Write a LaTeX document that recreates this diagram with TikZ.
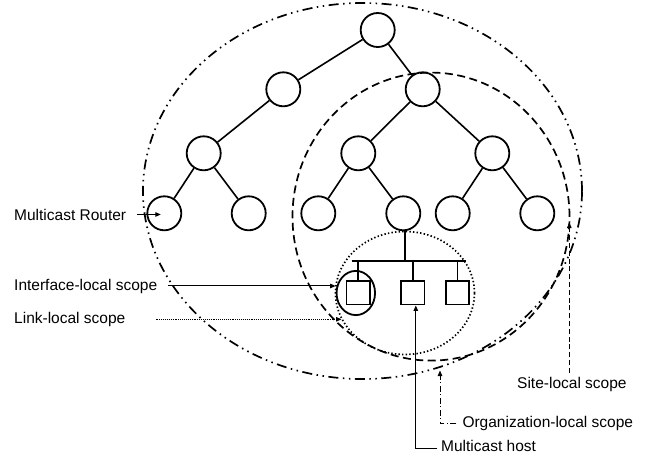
\documentclass[tikz,border=0pt]{standalone}
\usepackage{fontspec}
\setmainfont{Liberation Sans}
\usetikzlibrary{arrows.meta,shapes.geometric}
\begin{document}
\begin{tikzpicture}[x=1pt,y=-1pt,
  router/.style={circle,draw,line width=1.8pt,minimum size=34pt,inner sep=0pt},
  hostbox/.style={rectangle,draw,line width=1.8pt,minimum size=23.5pt,inner sep=0pt},
  edge/.style={line width=1.6pt},
  bus/.style={line width=2.6pt},
  lbl/.style={font=\fontsize{15.5}{18}\selectfont,inner sep=0pt,anchor=base west},
  tip/.style={-{Triangle[length=5.5pt,width=4.5pt]}},
  lead/.style={line width=1pt},
  scopering/.style={ellipse,draw,inner sep=0pt,line width=1.7pt},
  orgline/.style={dash pattern=on 10pt off 4.5pt on 1.5pt off 4.5pt on 1.5pt off 4.5pt},
  siteline/.style={dash pattern=on 8pt off 4.5pt},
  linkline/.style={dash pattern=on 1.4pt off 2.2pt},
]
\useasboundingbox (0,0) rectangle (650,458);

% scope boundaries
\node[scopering,orgline,minimum width=439pt,minimum height=376pt] (orgscope) at (362.5,191) {};
\node[scopering,siteline,minimum width=277pt,minimum height=288pt] (sitescope) at (431,216.6) {};
\node[scopering,linkline,minimum width=139pt,minimum height=123pt] (linkscope) at (405,293) {};

% router tree
\node[router] (root) at (377.7,30) {};
\node[router] (l2a) at (283.3,89.3) {};
\node[router] (l2b) at (422.7,89.3) {};
\node[router] (l3a) at (203.7,153.3) {};
\node[router] (l3b) at (358.3,153.3) {};
\node[router] (l3c) at (492.3,153.3) {};
\node[router] (lfa) at (164.3,213.3) {};
\node[router] (lfb) at (248.7,213.3) {};
\node[router] (lfc) at (318.3,213.3) {};
\node[router] (lfd) at (403.3,213.3) {};
\node[router] (lfe) at (452.7,213.3) {};
\node[router] (lff) at (537.3,213.3) {};

\draw[edge] (root) -- (l2a);
\draw[edge] (root) -- (l2b);
\draw[edge] (l2a) -- (l3a);
\draw[edge] (l3a) -- (lfa);
\draw[edge] (l3a) -- (lfb);
\draw[edge] (l2b) -- (l3b);
\draw[edge] (l2b) -- (l3c);
\draw[edge] (l3b) -- (lfc);
\draw[edge] (l3b) -- (lfd);
\draw[edge] (l3c) -- (lfe);
\draw[edge] (l3c) -- (lff);

% link with hosts
\coordinate (busL) at (351.7,261);
\coordinate (busR) at (465.7,261);
\node[hostbox] (hostA) at (358.2,292.8) {};
\node[hostbox] (hostB) at (412.8,292.8) {};
\node[hostbox] (hostC) at (457.5,292.8) {};
\draw[bus] (busL) -- (busR);
\draw[edge] ([xshift=1.5pt]lfd.south) -- ([xshift=1.5pt]lfd.south |- busL);
\draw[edge] (hostA.north) -- (hostA.north |- busL);
\draw[edge] (hostB.north) -- (hostB.north |- busL);
\draw[edge] (hostC.north) -- (hostC.north |- busL);

% interface-local boundary
\node[ellipse,draw,line width=1.8pt,inner sep=0pt,minimum width=38.5pt,minimum height=44.2pt] (iface) at (355.8,293) {};

% labels
\node[lbl] (mrlbl) at (14,220) {Multicast Router};
\node[lbl] (iflbl) at (14,290) {Interface-local scope};
\node[lbl] (lllbl) at (14,323.3) {Link-local scope};
\node[lbl] (sitelbl) at (517,388.3) {Site-local scope};
\node[lbl] (orglbl) at (462.3,427.3) {Organization-local scope};
\node[lbl] (hostlbl) at (441,451.7) {Multicast host};

% leaders
\coordinate (linkhit) at (341.5,320);
\coordinate (sitehit) at (569.3,222.5);
\coordinate (orghit) at (440,370.5);

\draw[lead,tip] ([xshift=11pt]mrlbl.east) -- ([xshift=-3.5pt]mrlbl.east -| lfa.center);
\draw[lead,tip] ([xshift=11pt]iflbl.east) -- (iflbl.east -| iface.west);
\draw[lead,tip,dash pattern=on 0.8pt off 1.1pt] ([xshift=30pt]lllbl.east) -- (lllbl.east -| linkhit);
\draw[lead,tip,dash pattern=on 5pt off 2.8pt] ([yshift=4pt]sitehit |- sitelbl.north) -- (sitehit);
\draw[lead,tip,dash pattern=on 6pt off 2.5pt on 1pt off 2.5pt] ([xshift=-6pt]orglbl.west) -| (orghit);
\draw[lead,tip] ([xshift=-4pt,yshift=-2pt]hostlbl.west) -| ([xshift=3pt]hostB.south);
\end{tikzpicture}
\end{document}
